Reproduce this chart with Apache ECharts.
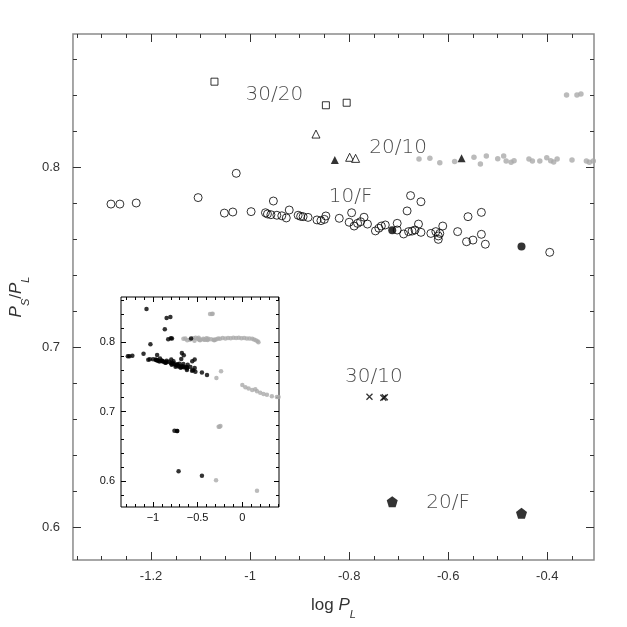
<!DOCTYPE html>
<html>
<head>
<meta charset="utf-8">
<script src="https://cdn.jsdelivr.net/npm/echarts@6/dist/echarts.min.js"></script>
<style>html,body{margin:0;padding:0;background:#fff}#c{width:627px;height:627px}</style>
</head>
<body>
<div id="c"></div>
<script>
// ---- data (log P_L, P_S/P_L) ----
const squares3020 = [[-1.072,0.8474],[-0.847,0.8343],[-0.805,0.8357]];
const openTri2010 = [[-0.867,0.8183],[-0.799,0.8054],[-0.787,0.8048]];
const filledTri2010 = [[-0.829,0.8039],[-0.573,0.8048]];
const openCircles10F = [
  [-1.281,0.7794],[-1.263,0.7794],[-1.230,0.7800],[-1.105,0.7830],[-1.028,0.7965],
  [-1.052,0.7744],[-1.035,0.7750],[-0.998,0.7752],[-0.953,0.7811],
  [-0.969,0.7746],[-0.965,0.7739],[-0.958,0.7735],[-0.946,0.7732],[-0.936,0.7729],[-0.927,0.7717],
  [-0.921,0.7761],[-0.903,0.7732],[-0.898,0.7726],[-0.893,0.7724],[-0.883,0.7720],
  [-0.865,0.7706],[-0.857,0.7702],[-0.850,0.7709],[-0.847,0.7728],[-0.820,0.7715],[-0.795,0.7746],
  [-0.800,0.7693],[-0.790,0.7672],[-0.783,0.7687],[-0.777,0.7696],[-0.770,0.7721],[-0.763,0.7683],
  [-0.747,0.7645],[-0.740,0.7660],[-0.735,0.7672],[-0.727,0.7678],
  [-0.703,0.7687],[-0.703,0.7650],[-0.690,0.7628],[-0.680,0.7641],[-0.673,0.7644],[-0.667,0.7650],
  [-0.660,0.7683],[-0.655,0.7637],[-0.676,0.7841],[-0.655,0.7807],[-0.683,0.7756],
  [-0.635,0.7631],[-0.625,0.7641],[-0.620,0.7617],[-0.617,0.7631],[-0.611,0.7672],[-0.620,0.7598],
  [-0.581,0.7641],[-0.560,0.7724],[-0.533,0.7748],[-0.563,0.7585],[-0.550,0.7594],[-0.533,0.7626],
  [-0.525,0.7571],[-0.395,0.7526]
];
const filledCircles10F = [[-0.713,0.7648],[-0.452,0.7559]];
const crosses3010 = [[-0.759,0.6724],[-0.731,0.6718],[-0.728,0.6721]];
const pentagons20F = [[-0.713,0.6141],[-0.452,0.6076]];
const grayPoints = [
  [-0.659,0.8044],[-0.637,0.8048],[-0.617,0.8024],[-0.587,0.8030],[-0.548,0.8054],[-0.535,0.8017],
  [-0.523,0.8061],[-0.500,0.8046],[-0.488,0.8061],[-0.483,0.8033],[-0.473,0.8026],[-0.467,0.8035],
  [-0.437,0.8044],[-0.430,0.8033],[-0.415,0.8033],[-0.401,0.8052],[-0.393,0.8035],[-0.387,0.8028],
  [-0.380,0.8044],[-0.350,0.8039],[-0.321,0.8033],[-0.315,0.8026],[-0.307,0.8033],
  [-0.361,0.8400],[-0.340,0.8400],[-0.332,0.8405],
  [-0.290,0.8040],[-0.270,0.8050],[-0.250,0.8045],[-0.220,0.8055],[-0.190,0.8050],[-0.160,0.8058],
  [-0.130,0.8052],[-0.100,0.8060],[-0.070,0.8055],[-0.040,0.8060],[-0.010,0.8052],[0.020,0.8058],
  [0.050,0.8050],[0.080,0.8048],[0.110,0.8045],[0.130,0.8035],[0.150,0.8025],[0.170,0.8010],[0.180,0.7995],
  [-0.290,0.7480],[-0.238,0.7580],[0.000,0.7380],[0.034,0.7350],[0.070,0.7330],[0.110,0.7310],
  [0.145,0.7320],[0.164,0.7290],[0.200,0.7270],[0.237,0.7250],[0.275,0.7240],[0.330,0.7220],
  [0.386,0.7210],[0.405,0.7210],
  [-0.265,0.6780],[-0.255,0.6780],[-0.245,0.6790],[-0.294,0.6010],[0.164,0.5860]
];
const insetBlack = [].concat(squares3020, openTri2010, filledTri2010, openCircles10F,
  filledCircles10F, crosses3010, pentagons20F);

// ---- tick labels ----
const mainXTicks = [-1.2,-1,-0.8,-0.6,-0.4];
const mainYTicks = [0.6,0.7,0.8];
const insetXTicks = [-1,-0.5,0];
const insetYTicks = [0.6,0.7,0.8];

function steps(a, b, s) { const out=[]; const n=Math.round((b-a)/s); for(let i=0;i<=n;i++) out.push(+(a+i*s).toFixed(4)); return out; }
const mainXMinor = steps(-1.35,-0.35,0.05);
const mainYMinor = steps(0.58,0.86,0.02);
const insetXMinor = steps(-1.3,0.4,0.1);
const insetYMinor = steps(0.58,0.86,0.02);

const MX=[-1.3577,-0.3056], MY=[0.58167,0.87389];
const IX=[-1.357,0.41], IY=[0.5627,0.8646];

function ax(grid, pos, range, values, len, color, label, extra) {
  return Object.assign({
    type:'value', gridIndex:grid, position:pos, min:range[0], max:range[1],
    axisLine:{show:false, onZero:false}, splitLine:{show:false},
    axisTick:{show:true, inside:true, length:len, customValues:values, lineStyle:{color:color, width:1}},
    axisLabel: label ? Object.assign({customValues:values}, label) : {show:false}
  }, extra||{});
}
const mainLbl = {show:true, fontFamily:'Liberation Sans, Arial, sans-serif', fontSize:13, color:'#333'};
const insetLbl = {show:true, fontFamily:'Liberation Sans, Arial, sans-serif', fontSize:11, color:'#111',
  formatter: v => String(v).replace('-', '\u2212')};

const titleRich = {
  n:{fontFamily:'Liberation Sans, Arial, sans-serif', fontSize:17, color:'#333', verticalAlign:'top'},
  i:{fontFamily:'Liberation Sans, Arial, sans-serif', fontSize:17, fontStyle:'italic', color:'#333', verticalAlign:'top'},
  s:{fontFamily:'Liberation Sans, Arial, sans-serif', fontSize:11, fontStyle:'italic', color:'#333', verticalAlign:'bottom', padding:[12,0,0,0]}
};

const xAxes = [
  ax(0,'bottom',MX,mainXTicks,8,'#333',Object.assign({margin:10},mainLbl),
     {name:'{n|log }{i|P}{s|L}', nameLocation:'middle', nameGap:37, nameTextStyle:{rich:titleRich}}),
  ax(0,'bottom',MX,mainXMinor,4,'#333',null),
  ax(0,'top',MX,mainXTicks,8,'#333',null),
  ax(0,'top',MX,mainXMinor,4,'#333',null),
  ax(1,'bottom',IX,insetXTicks,5,'#000',Object.assign({margin:5},insetLbl)),
  ax(1,'bottom',IX,insetXMinor,3,'#000',null),
  ax(1,'top',IX,insetXTicks,5,'#000',null),
  ax(1,'top',IX,insetXMinor,3,'#000',null)
];
const yAxes = [
  ax(0,'left',MY,mainYTicks,8,'#333',Object.assign({margin:13},mainLbl),
     {name:'{i|P}{s|S}{n|/}{i|P}{s|L}', nameLocation:'middle', nameGap:39, nameRotate:90, nameTextStyle:{rich:titleRich}}),
  ax(0,'left',MY,mainYMinor,4,'#333',null),
  ax(0,'right',MY,mainYTicks,8,'#333',null),
  ax(0,'right',MY,mainYMinor,4,'#333',null),
  ax(1,'left',IY,insetYTicks,5,'#000',Object.assign({margin:6},insetLbl)),
  ax(1,'left',IY,insetYMinor,3,'#000',null),
  ax(1,'right',IY,insetYTicks,5,'#000',null),
  ax(1,'right',IY,insetYMinor,3,'#000',null)
];

const pent = 'path://M50,0L97.6,34.5L79.4,90.5L20.6,90.5L2.4,34.5Z';
const cross = 'path://M0,0L10,10M10,0L0,10';
function sc(data, xi, yi, symbol, size, style, z) {
  return {type:'scatter', xAxisIndex:xi, yAxisIndex:yi, data:data, symbol:symbol, symbolSize:size,
    itemStyle:style, silent:true, z:z||2, emphasis:{disabled:true}};
}
const annFont = {fontFamily:'DejaVu Sans, sans-serif', fontWeight:200, fontSize:20, color:'#1a1a1a'};
const annotations = {
  type:'scatter', xAxisIndex:0, yAxisIndex:0, symbol:'circle', symbolSize:1, silent:true,
  itemStyle:{color:'rgba(0,0,0,0)'}, z:5,
  label:Object.assign({show:true, position:'inside', formatter:p=>p.name}, annFont),
  data:[
    {name:'30/20', value:[-0.951,0.8400]},
    {name:'20/10', value:[-0.701,0.8104]},
    {name:'10/F', value:[-0.797,0.7833]},
    {name:'30/10', value:[-0.750,0.6832]},
    {name:'20/F', value:[-0.600,0.6135]}
  ]
};

const series = [
  sc(grayPoints,0,0,'circle',5.5,{color:'#aaaaaa'}),
  sc(squares3020,0,0,'rect',7,{color:'#fff',borderColor:'#000',borderWidth:1}),
  sc(openTri2010,0,0,'triangle',8,{color:'#fff',borderColor:'#000',borderWidth:1}),
  sc(filledTri2010,0,0,'triangle',8,{color:'#000'}),
  sc(openCircles10F,0,0,'circle',8,{color:'rgba(0,0,0,0)',borderColor:'#000',borderWidth:1}),
  sc(filledCircles10F,0,0,'circle',8,{color:'#000'}),
  sc(crosses3010,0,0,cross,6,{color:'rgba(0,0,0,0)',borderColor:'#000',borderWidth:1.3}),
  sc(pentagons20F,0,0,pent,11,{color:'#000'}),
  annotations,
  sc(grayPoints,4,4,'circle',4.5,{color:'#aaaaaa'},3),
  sc(insetBlack,4,4,'circle',4.5,{color:'#000'},3)
];

const chart = echarts.init(document.getElementById('c'), null, {renderer:'canvas'});
chart.setOption({
  animation:false,
  backgroundColor:'#fff',
  grid:[
    {left:67, top:34, width:527, height:526, show:true, borderColor:'#8a8a8a', borderWidth:1.5, backgroundColor:'rgba(0,0,0,0)'},
    {left:121, top:297, width:158, height:210, show:true, borderColor:'#000', borderWidth:1, backgroundColor:'#fff'}
  ],
  xAxis:xAxes,
  yAxis:yAxes,
  series:series
});
</script>
</body>
</html>
